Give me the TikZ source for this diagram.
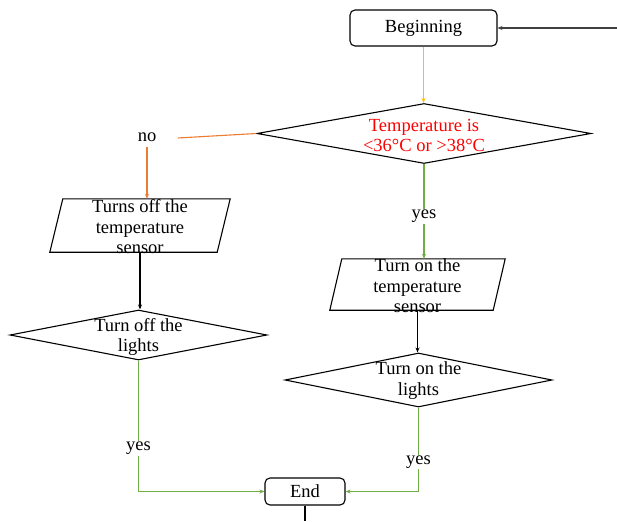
\documentclass[tikz,border=0pt]{standalone}
\usepackage{fontspec}
\setmainfont{Liberation Serif}
\usetikzlibrary{shapes.geometric,arrows.meta}
\definecolor{ylw}{HTML}{FFC000}
\definecolor{org}{HTML}{ED7D31}
\definecolor{grn}{HTML}{70AD47}
\definecolor{dgray}{HTML}{404040}
\begin{document}
\begin{tikzpicture}[x=1pt,y=-1pt,
  every node/.style={font=\rmfamily\fontsize{18.5}{20.5}\selectfont},
  rbox/.style={draw, rounded corners=5pt, line width=1.1pt, inner sep=0pt},
  dia/.style={draw, diamond, line width=1.1pt, inner sep=0pt},
  pbox/.style={inner sep=0pt},
  pline/.style={draw, line width=1.1pt},
  txt/.style={align=center, inner sep=1pt},
  lbl/.style={fill=white, text=black, inner sep=1pt},
  lnk/.style={line width=1.1pt, -{Stealth[length=5pt,width=4pt]}},
  plain/.style={line width=1.1pt}]
\useasboundingbox (0,0) rectangle (617,521);
\fill[white] (0,0) rectangle (617,521);

% nodes
\node[rbox, minimum width=147pt, minimum height=36pt] (begin) at (423.5,28) {Beginning};
\node[dia, minimum width=334pt, minimum height=60pt] (d1) at (424,133.5) {};
\node[txt, text=red] (d1t) at (424,135.5) {Temperature is\\<36°C or >38°C};
\node (no) at (147,137) {no};

\node[pbox, minimum width=180pt, minimum height=53pt] (p1) at (140,225.5) {};
\draw[pline] ([xshift=13pt]p1.north west) -- (p1.north east) -- ([xshift=-13pt]p1.south east) -- (p1.south west) -- cycle;
\node[txt] (p1t) at (140,227) {Turns off the\\temperature\\sensor};

\node[pbox, minimum width=175pt, minimum height=51pt] (p2) at (417.5,284.5) {};
\draw[pline] ([xshift=12pt]p2.north west) -- (p2.north east) -- ([xshift=-12pt]p2.south east) -- (p2.south west) -- cycle;
\node[txt] (p2t) at (417.5,286) {Turn on the\\temperature\\sensor};

\node[dia, minimum width=257pt, minimum height=50pt] (d2) at (138.5,335) {};
\node[txt] (d2t) at (138.5,337) {Turn off the\\lights};

\node[dia, minimum width=267pt, minimum height=54pt] (d3) at (418.5,380) {};
\node[txt] (d3t) at (418.5,380.5) {Turn on the\\lights};

\node[rbox, minimum width=80pt, minimum height=27pt] (end) at (305,491.5) {End};

\coordinate (in) at (617,28);
\coordinate (out) at (305,521);

% connectors
\draw[lnk, dgray] (in) -- (begin.east);
\draw[lnk, ylw] (begin.south) -- (begin.south |- d1.north);
\draw[plain, org] (d1.west) -- ([xshift=18pt,yshift=-1pt]no.east);
\draw[lnk, org] ([yshift=-2pt]no.south) -- (no.south |- p1.north);
\draw[lnk, grn] (d1.south) -- node[lbl, pos=0.55] {yes} (d1.south |- p2.north);
\draw[lnk] (p1.south) -- (p1.south |- d2.north);
\draw[lnk] (p2.south) -- (p2.south |- d3.north);
\draw[lnk, grn] (d2.south) -- node[lbl, pos=0.67] {yes} (d2.south |- end.west) -- (end.west);
\draw[lnk, grn] (d3.south) -- node[lbl, pos=0.65] {yes} (d3.south |- end.east) -- (end.east);
\draw[plain] (end.south) -- (out);
\end{tikzpicture}
\end{document}
